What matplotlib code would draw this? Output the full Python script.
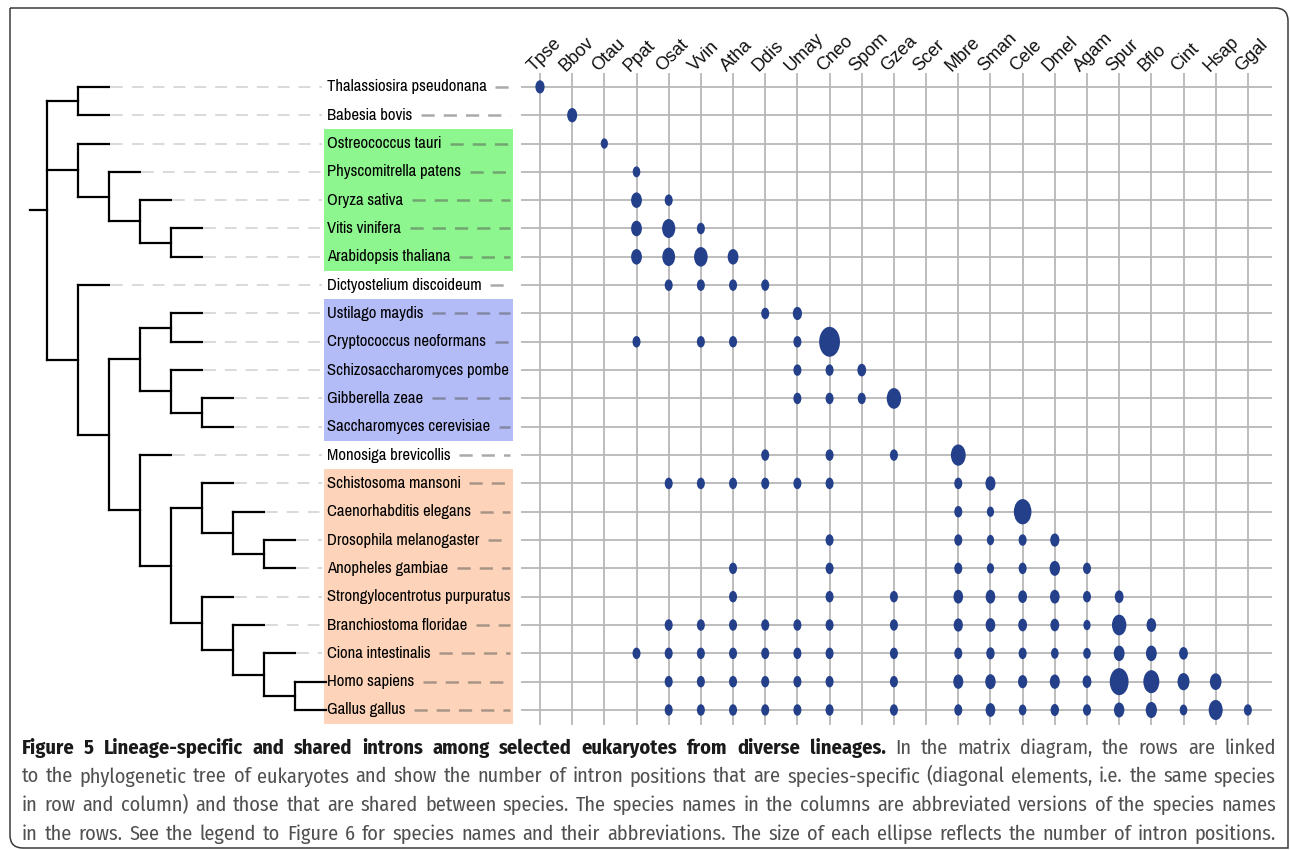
import matplotlib
matplotlib.use("Agg")
import matplotlib.pyplot as plt
from matplotlib.patches import Ellipse, Rectangle, PathPatch
from matplotlib.path import Path
from matplotlib import font_manager
import numpy as np

plt.rcParams['lines.scale_dashes'] = False

W, H = 1290, 850

# ---- data ---------------------------------------------------------------
col_abbrev = ["Tpse", "Bbov", "Otau", "Ppat", "Osat", "Vvin", "Atha", "Ddis",
              "Umay", "Cneo", "Spom", "Gzea", "Scer", "Mbre", "Sman", "Cele",
              "Dmel", "Agam", "Spur", "Bflo", "Cint", "Hsap", "Ggal"]

species = ["Thalassiosira pseudonana", "Babesia bovis", "Ostreococcus tauri",
           "Physcomitrella patens", "Oryza sativa", "Vitis vinifera",
           "Arabidopsis thaliana", "Dictyostelium discoideum", "Ustilago maydis",
           "Cryptococcus neoformans", "Schizosaccharomyces pombe", "Gibberella zeae",
           "Saccharomyces cerevisiae", "Monosiga brevicollis", "Schistosoma mansoni",
           "Caenorhabditis elegans", "Drosophila melanogaster", "Anopheles gambiae",
           "Strongylocentrotus purpuratus", "Branchiostoma floridae",
           "Ciona intestinalis", "Homo sapiens", "Gallus gallus"]

# shaded clades: first row, last row, colour
clade_shading = [("Otau", "Atha", "#8ef68e"),
                 ("Umay", "Scer", "#b4bcf8"),
                 ("Sman", "Ggal", "#fdd4b9")]

# cladogram (nested tuples)
tree = (("Tpse", "Bbov"),
        ("Otau", ("Ppat", ("Osat", ("Vvin", "Atha")))),
        ("Ddis", ((("Umay", "Cneo"), ("Spom", ("Gzea", "Scer"))),
                  ("Mbre", (("Sman", ("Cele", ("Dmel", "Agam"))),
                            ("Spur", ("Bflo", ("Cint", ("Hsap", "Ggal")))))))))

# relative ellipse size (number of intron positions)
shared = {
    "Tpse": {"Tpse": 1.15},
    "Bbov": {"Bbov": 1.25},
    "Otau": {"Otau": 0.9},
    "Ppat": {"Ppat": 0.95},
    "Osat": {"Ppat": 1.35, "Osat": 1.0},
    "Vvin": {"Ppat": 1.35, "Osat": 1.65, "Vvin": 1.0},
    "Atha": {"Ppat": 1.35, "Osat": 1.6, "Vvin": 1.7, "Atha": 1.35},
    "Ddis": {"Osat": 1, "Vvin": 1, "Atha": 1, "Ddis": 1},
    "Umay": {"Ddis": 1, "Umay": 1.15},
    "Cneo": {"Ppat": 1, "Vvin": 1, "Atha": 1, "Umay": 1, "Cneo": 2.6},
    "Spom": {"Umay": 1, "Cneo": 1, "Spom": 1.1},
    "Gzea": {"Umay": 1, "Cneo": 1, "Spom": 1, "Gzea": 1.8},
    "Scer": {},
    "Mbre": {"Ddis": 1, "Cneo": 1, "Gzea": 1, "Mbre": 1.85},
    "Sman": {"Osat": 1, "Vvin": 1, "Atha": 1, "Ddis": 1, "Umay": 1, "Cneo": 1,
             "Mbre": 1, "Sman": 1.25},
    "Cele": {"Mbre": 1, "Sman": 0.9, "Cele": 2.2},
    "Dmel": {"Cneo": 1, "Mbre": 1, "Sman": 0.9, "Cele": 1, "Dmel": 1.15},
    "Agam": {"Atha": 1, "Cneo": 1, "Mbre": 1, "Sman": 0.9, "Cele": 1, "Dmel": 1.3,
             "Agam": 1},
    "Spur": {"Atha": 1, "Cneo": 1, "Gzea": 1, "Mbre": 1.2, "Sman": 1.2, "Cele": 1.1,
             "Dmel": 1.2, "Agam": 1, "Spur": 1.1},
    "Bflo": {"Osat": 1, "Vvin": 1, "Atha": 1, "Ddis": 1, "Umay": 1, "Cneo": 1,
             "Gzea": 1, "Mbre": 1.15, "Sman": 1.2, "Cele": 1.1, "Dmel": 1.1,
             "Agam": 0.9, "Spur": 1.8, "Bflo": 1.2},
    "Cint": {"Ppat": 1, "Osat": 1, "Vvin": 1, "Atha": 1, "Ddis": 1, "Umay": 1,
             "Cneo": 1, "Gzea": 1, "Mbre": 1, "Sman": 1.05, "Cele": 1, "Dmel": 0.95,
             "Agam": 0.95, "Spur": 1.35, "Bflo": 1.35, "Cint": 1.1},
    "Hsap": {"Osat": 1, "Vvin": 1, "Atha": 1, "Ddis": 1, "Umay": 1, "Cneo": 1,
             "Gzea": 1, "Mbre": 1.25, "Sman": 1.3, "Cele": 1.15, "Dmel": 1.25,
             "Agam": 1.1, "Spur": 2.35, "Bflo": 2.0, "Cint": 1.5, "Hsap": 1.45},
    "Ggal": {"Osat": 1, "Vvin": 1, "Atha": 1, "Ddis": 1, "Umay": 1, "Cneo": 1,
             "Gzea": 1, "Mbre": 1, "Sman": 1.2, "Cele": 0.95, "Dmel": 1.05,
             "Agam": 1, "Spur": 1.3, "Bflo": 1.4, "Cint": 0.95, "Hsap": 1.75,
             "Ggal": 1.0},
}

caption_bold = "Figure 5 Lineage-specific and shared introns among selected eukaryotes from diverse lineages."
caption_lines = [
    "In the matrix diagram, the rows are linked",
    "to the phylogenetic tree of eukaryotes and show the number of intron positions that are species-specific (diagonal elements, i.e. the same species",
    "in row and column) and those that are shared between species. The species names in the columns are abbreviated versions of the species names",
    "in the rows. See the legend to Figure 6 for species names and their abbreviations. The size of each ellipse reflects the number of intron positions.",
]

ELLIPSE_COLOR = "#24408a"
GRID_COLOR = "#b8b8b8"

row_of = {a: i for i, a in enumerate(col_abbrev)}
n = len(col_abbrev)

# ---- figure -------------------------------------------------------------
fig = plt.figure(figsize=(W / 100, H / 100), dpi=100)
fig.patch.set_facecolor("white")
renderer = fig.canvas.get_renderer()

ax_bg = fig.add_axes([0, 0, 1, 1])
ax_bg.set_xlim(0, W)
ax_bg.set_ylim(H, 0)
ax_bg.axis("off")


# ---- fonts: pick installed condensed families that have a regular face ----
def has_regular(name):
    for f in font_manager.fontManager.ttflist:
        if f.name != name or f.style != "normal":
            continue
        w = f.weight if isinstance(f.weight, int) else font_manager.weight_dict.get(str(f.weight), 400)
        if w == 400:
            return True
    return False


def text_width(s, family, size, weight="normal"):
    t = ax_bg.text(0, 0, s, fontsize=size, fontweight=weight, family=family)
    w = t.get_window_extent(renderer).width
    t.remove()
    return w


def best_font(prefs, samples, target_size):
    # samples: (text, width in px it has in the reference)
    best, best_size, best_err = ['DejaVu Sans'], 12.0, 1e9
    for p in prefs:
        if not has_regular(p):
            continue
        fam = [p, 'DejaVu Sans']
        size = min(12 * px / text_width(s, fam, 12) for s, px in samples)
        if abs(size - target_size) < best_err:
            best, best_size, best_err = fam, size, abs(size - target_size)
    return best, best_size


condensed = ['Roboto Condensed', 'Liberation Sans Narrow', 'Arial Narrow',
             'PT Sans Narrow', 'Archivo Narrow', 'Pragati Narrow',
             'Fira Sans Condensed', 'Fira Sans Extra Condensed',
             'IBM Plex Sans Condensed', 'Encode Sans Condensed',
             'Encode Sans Semi Condensed', 'Barlow Condensed',
             'Barlow Semi Condensed', 'Asap Condensed', 'Sofia Sans Condensed',
             'Sofia Sans Semi Condensed', 'Sofia Sans Extra Condensed',
             'Open Sans Condensed', 'Cabin Condensed', 'Ubuntu Condensed',
             'Liberation Sans']

LABEL_FONT, label_size = best_font(
    condensed, [(species[0], 160), (species[18], 184), (species[10], 184)], 14.0)
label_size = min(label_size, 14.5)
CAPTION_FONT, cap_size = best_font(condensed, [(caption_lines[3], 1215)], 14.5)
PLAIN = ['Liberation Sans', 'DejaVu Sans']

# panel border (rounded top-right and bottom-left corners)
r = 13
x0, y0, x1, y1 = 10, 8, 1288, 848
verts = [(x0, y0), (x1 - r, y0), (x1, y0), (x1, y0 + r), (x1, y1),
         (x0 + r, y1), (x0, y1), (x0, y1 - r), (x0, y0)]
codes = [Path.MOVETO, Path.LINETO, Path.CURVE3, Path.CURVE3, Path.LINETO,
         Path.LINETO, Path.CURVE3, Path.CURVE3, Path.LINETO]
ax_bg.add_patch(PathPatch(Path(verts, codes), fc="none", ec="#3a3a3a", lw=1.1))

top_px, bot_px = 73, 725
ylim = (22.53, -0.49)

# matrix
ax_m = fig.add_axes([521 / W, 1 - bot_px / H, (1272 - 521) / W, (bot_px - top_px) / H])
ax_m.set_xlim(-0.59, 22.75)
ax_m.set_ylim(*ylim)
ax_m.axis("off")

for j in range(n):
    ax_m.axvline(j, color=GRID_COLOR, lw=1.3, zorder=1)
for i in range(n):
    ax_m.axhline(i, color=GRID_COLOR, lw=1.3, zorder=1)

bbox = ax_m.get_window_extent()
px_per_col = bbox.width / (22.75 + 0.59)
px_per_row = bbox.height / (22.53 + 0.49)
for row, cells in shared.items():
    for col, s in cells.items():
        ax_m.add_patch(Ellipse((row_of[col], row_of[row]),
                               width=8.0 * s / px_per_col,
                               height=11.5 * s / px_per_row,
                               fc=ELLIPSE_COLOR, ec="none", zorder=3))

for j, lab in enumerate(col_abbrev):
    ax_m.text(j - 0.2, 1.002, lab, transform=ax_m.get_xaxis_transform(),
              rotation=45, rotation_mode="anchor", ha="left", va="baseline",
              fontsize=13, family=PLAIN, color="#111111")

# tree + labels
ax_t = fig.add_axes([0, 1 - bot_px / H, 521 / W, (bot_px - top_px) / H])
ax_t.set_xlim(-47 / 31, (521 - 47) / 31)
ax_t.set_ylim(*ylim)
ax_t.axis("off")

for first, last, color in clade_shading:
    a, b = row_of[first], row_of[last]
    ax_t.add_patch(Rectangle((8.94, a - 0.5), 15.03 - 8.94, b - a + 1,
                             fc=color, ec="none", zorder=0))

leaf_depth = {}


def draw_clade(node, depth):
    if isinstance(node, str):
        leaf_depth[node] = depth
        return row_of[node]
    ys = [draw_clade(c, depth + 1) for c in node]
    for y in ys:
        ax_t.plot([depth, depth + 1], [y, y], color="black", lw=1.6,
                  solid_capstyle="projecting", zorder=3)
    ax_t.plot([depth, depth], [min(ys), max(ys)], color="black", lw=1.6,
              solid_capstyle="projecting", zorder=3)
    return float(np.mean(ys))


root_y = draw_clade(tree, 0)
ax_t.plot([-0.55, 0], [root_y, root_y], color="black", lw=1.6, zorder=3)

inv = ax_t.transData.inverted()
label_x = 9.02
for abbr, name in zip(col_abbrev, species):
    i = row_of[abbr]
    d = leaf_depth[abbr]
    if d < 8.8:
        ax_t.plot([d + 0.05, 8.87], [i, i], color="#d0d0d0", lw=1.1,
                  linestyle=(0, (8.5, 6.5)), zorder=2)
    t = ax_t.text(label_x, i, name, va="center", ha="left", fontsize=label_size,
                  family=LABEL_FONT, color="black", zorder=4)
    ext = t.get_window_extent(renderer)
    end_x = inv.transform((ext.x1 + 9, 0))[0]
    if end_x < 14.9:
        ax_t.plot([end_x, 14.94], [i, i], color="#555555", alpha=0.5, lw=1.8,
                  linestyle=(0, (9.5, 6.5)), zorder=2)

# caption, justified word by word
left, right = 22, 1276
baselines = [754, 782.5, 811, 839.5]
lines = [[(caption_bold, "bold", "#1a1a1a"), (caption_lines[0], "normal", "#505050")]]
lines += [[(ln, "normal", "#505050")] for ln in caption_lines[1:]]

size = min(cap_size, 15.0)
space = text_width("a a", CAPTION_FONT, size) - 2 * text_width("a", CAPTION_FONT, size)
widest = 0
for parts in lines:
    words = [(w, wt) for txt, wt, c in parts for w in txt.split()]
    tot = sum(text_width(w, CAPTION_FONT, size, wt) for w, wt in words) + space * (len(words) - 1)
    widest = max(widest, tot)
if widest > right - left:
    size *= (right - left) / widest * 0.99

for parts, yb in zip(lines, baselines):
    words = [(w, wt, c) for txt, wt, c in parts for w in txt.split()]
    widths = [text_width(w, CAPTION_FONT, size, wt) for w, wt, c in words]
    gap = (right - left - sum(widths)) / (len(words) - 1)
    x = left
    for (w, wt, c), ww in zip(words, widths):
        ax_bg.text(x, yb, w, fontsize=size, fontweight=wt, family=CAPTION_FONT,
                   color=c, va="baseline", ha="left")
        x += ww + gap

fig.savefig("out.png", dpi=100)
